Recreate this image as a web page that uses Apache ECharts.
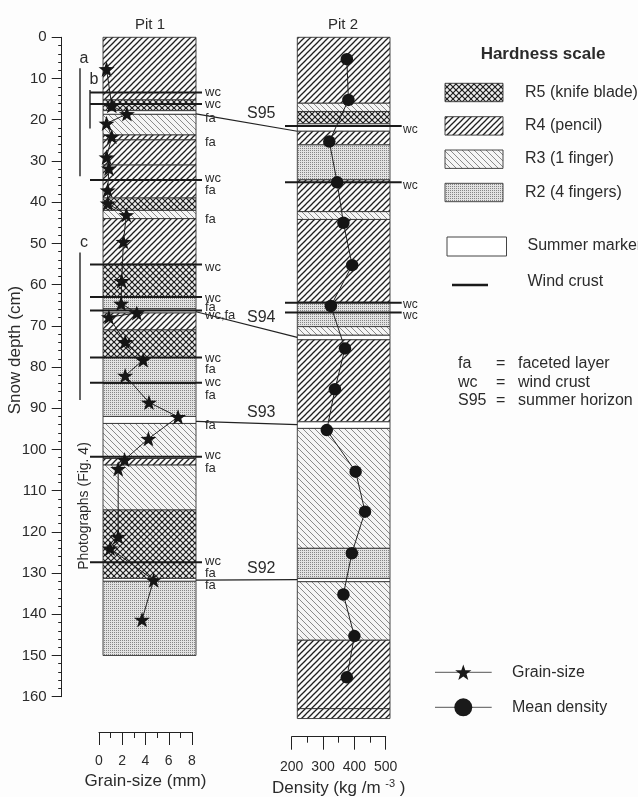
<!DOCTYPE html>
<html><head><meta charset="utf-8">
<script src="https://cdn.jsdelivr.net/npm/echarts@6/dist/echarts.min.js"></script>
<style>html,body{margin:0;padding:0;background:#fdfdfd}#c{width:638px;height:797px}</style>
</head><body><div id="c"></div>
<script>
// ---------------- data ----------------
const grainDepth = [7.7, 16.6, 18.6, 20.9, 24.1, 29.1, 31.8, 37.1, 40.3, 43.1, 49.6, 59.1, 64.6, 66.9, 67.9, 73.9, 78.3, 82.1, 88.6, 92.1, 97.4, 102.5, 104.7, 121.2, 124.0, 131.7, 141.3];
const grainSize  = [0.65, 1.1, 2.4, 0.65, 1.1, 0.65, 0.85, 0.75, 0.75, 2.35, 2.1, 1.95, 1.9, 3.25, 0.85, 2.25, 3.8, 2.25, 4.3, 6.8, 4.25, 2.2, 1.65, 1.65, 0.95, 4.7, 3.7];

const densityDepth = [5.3, 15.2, 25.3, 35.2, 45.0, 55.3, 65.2, 75.5, 85.4, 95.3, 105.4, 115.1, 125.2, 135.2, 145.3, 155.3];
const densityValue = [376, 381, 320, 345, 365, 393, 325, 370, 338, 312, 404, 434, 392, 365, 400, 376];

// layers: [top, bottom, hardness]
const pit1Layers = [
  [0, 15.2, 'R4'], [15.2, 17.8, 'R5'], [17.8, 18.7, 'S'], [18.7, 23.7, 'R3'], [23.7, 24.9, 'R4'],
  [24.9, 31.0, 'R4'], [31.0, 39.0, 'R4'], [39.0, 42.0, 'R5'], [42.0, 44.0, 'R3'], [44.0, 55.1, 'R4'],
  [55.1, 63.0, 'R5'], [63.0, 65.9, 'R2'], [65.9, 66.9, 'S'], [66.9, 71.0, 'R4'], [71.0, 77.7, 'R5'],
  [77.7, 84.0, 'R2'], [84.0, 92.0, 'R2'], [92.0, 93.7, 'S'], [93.7, 102.2, 'R3'], [102.2, 103.8, 'R4'],
  [103.8, 114.7, 'R3'], [114.7, 131.3, 'R5'], [131.3, 132.0, 'S'], [132.0, 150.0, 'R2']
];
const pit2Layers = [
  [0, 16.0, 'R4'], [16.0, 18.0, 'R3'], [18.0, 21.0, 'R5'], [21.0, 22.8, 'S'], [22.8, 26.1, 'R4'],
  [26.1, 34.6, 'R2'], [34.6, 42.3, 'R4'], [42.3, 44.2, 'R3'], [44.2, 64.3, 'R4'], [64.3, 70.2, 'R2'],
  [70.2, 72.3, 'R3'], [72.3, 73.4, 'S'], [73.4, 93.3, 'R4'], [93.3, 94.9, 'S'], [94.9, 124.0, 'R3'],
  [124.0, 131.3, 'R2'], [131.3, 132.1, 'S'], [132.1, 146.3, 'R3'], [146.3, 162.9, 'R4'], [162.9, 165.3, 'R4']
];

const pit1WindCrust = [13.4, 16.2, 34.6, 55.1, 63.0, 66.3, 77.7, 83.8, 101.8, 127.4];
const pit2WindCrust = [21.5, 35.2, 64.4, 66.8];

const pit1LabelDepth = [13.4, 16.2, 19.7, 25.5, 34.2, 37.1, 44.3, 55.9, 63.4, 65.6, 67.6, 77.9, 80.5, 83.8, 86.8, 94.1, 101.4, 104.6, 127.1, 130.1, 132.9];
const pit1LabelText  = ['wc', 'wc', 'fa', 'fa', 'wc', 'fa', 'fa', 'wc', 'wc', 'fa', 'wc,fa', 'wc', 'fa', 'wc', 'fa', 'fa', 'wc', 'fa', 'wc', 'fa', 'fa'];
const pit2LabelDepth = [22.3, 35.9, 64.9, 67.6];
const pit2LabelText  = ['wc', 'wc', 'wc', 'wc'];

const horizonNames = ['S95', 'S94', 'S93', 'S92'];
const horizonPit1  = [18.6, 66.6, 93.2, 131.7];
const horizonPit2  = [22.8, 72.8, 94.0, 131.6];

const bracketNames  = ['a', 'b', 'c'];
const bracketTop    = [7.5, 12.8, 52.2];
const bracketBottom = [33.7, 22.1, 88.0];

const grainTicks = [0, 2, 4, 6, 8];
const densityTicks = [200, 300, 400, 500];

// ---------------- layout / style ----------------
const L = {
  pit1: [103, 196], pit2: [297.3, 390],
  wc1: [90, 202], wc2: [285, 401.7],
  label1X: 205, label2X: 403, sLabelX: 247,
  bracketX: [80, 90, 80]
};
const FONT = '"Liberation Sans", Arial, sans-serif';
const INK = '#2b2b2b';

function tile(size, draw) {
  const c = document.createElement('canvas');
  c.width = size; c.height = size;
  const g = c.getContext('2d');
  draw(g, size);
  return { image: c, repeat: 'repeat' };
}
function slash(g, s, dir) {
  for (let k = -1; k <= 1; k++) {
    g.beginPath();
    if (dir > 0) { g.moveTo(k * s - 1, s + 1); g.lineTo(k * s + s + 1, -1); }
    else { g.moveTo(k * s - 1, -1); g.lineTo(k * s + s + 1, s + 1); }
    g.stroke();
  }
}
const PATTERNS = {
  R5: tile(6, (g, s) => { g.fillStyle = '#eeeeee'; g.fillRect(0, 0, s, s); g.strokeStyle = '#1e1e1e'; g.lineWidth = 1.2; slash(g, s, 1); slash(g, s, -1); }),
  R4: tile(6, (g, s) => { g.fillStyle = '#fafafa'; g.fillRect(0, 0, s, s); g.strokeStyle = '#1e1e1e'; g.lineWidth = 1.25; slash(g, s, 1); }),
  R3: tile(6, (g, s) => { g.fillStyle = '#f5f5f5'; g.fillRect(0, 0, s, s); g.strokeStyle = '#8a8a8a'; g.lineWidth = 1; slash(g, s, -1); }),
  R2: tile(2, (g, s) => { g.fillStyle = '#e2e2e2'; g.fillRect(0, 0, s, s); g.fillStyle = '#858585'; g.fillRect(0, 0, 1, 1); }),
  S: '#ffffff'
};

const STAR = 'path://M0,-10 L2.35,-3.24 L9.51,-3.09 L3.8,1.24 L5.88,8.09 L0,4 L-5.88,8.09 L-3.8,1.24 L-9.51,-3.09 L-2.35,-3.24 Z';
function starPoints(cx, cy, R) {
  const pts = [];
  for (let i = 0; i < 10; i++) {
    const a = -Math.PI / 2 + i * Math.PI / 5;
    const r = i % 2 === 0 ? R : R * 0.4;
    pts.push([cx + r * Math.cos(a), cy + r * Math.sin(a)]);
  }
  return pts;
}

function layerSeries(layers, idx, xv, xr) {
  return {
    type: 'custom', xAxisIndex: idx, yAxisIndex: idx, z: 1, silent: true, clip: false,
    data: layers.map(l => [xv, l[0], l[1]]),
    encode: { x: 0, y: [1, 2] },
    renderItem: (p, api) => {
      const y0 = api.coord([xv, api.value(1)])[1];
      const y1 = api.coord([xv, api.value(2)])[1];
      return { type: 'rect', shape: { x: xr[0], y: y0, width: xr[1] - xr[0], height: y1 - y0 },
        style: { fill: PATTERNS[layers[p.dataIndex][2]], stroke: '#333', lineWidth: 0.9 } };
    }
  };
}
function crustSeries(depths, idx, xv, xr) {
  return {
    type: 'custom', xAxisIndex: idx, yAxisIndex: idx, z: 3, silent: true, clip: false,
    data: depths.map(d => [xv, d]),
    encode: { x: 0, y: 1 },
    renderItem: (p, api) => {
      const y = api.coord([xv, api.value(1)])[1];
      return { type: 'line', shape: { x1: xr[0], y1: y, x2: xr[1], y2: y }, style: { stroke: '#1a1a1a', lineWidth: 2 } };
    }
  };
}
function labelSeries(depths, texts, idx, xv, x, size) {
  return {
    type: 'custom', xAxisIndex: idx, yAxisIndex: idx, z: 4, silent: true, clip: false,
    data: depths.map(d => [xv, d]),
    encode: { x: 0, y: 1 },
    renderItem: (p, api) => {
      const y = api.coord([xv, api.value(1)])[1];
      return { type: 'text', x: x, y: y, style: { text: texts[p.dataIndex], fill: INK, font: size + 'px ' + FONT, align: 'left', verticalAlign: 'middle' } };
    }
  };
}

const axisCommon = {
  type: 'value',
  axisLine: { show: true, onZero: false, lineStyle: { color: '#222', width: 1 } },
  splitLine: { show: false }, minorSplitLine: { show: false }
};

const option = {
  backgroundColor: '#fdfdfd',
  animation: false,
  textStyle: { fontFamily: FONT },
  grid: [
    { left: 99, top: 37.3, width: 93, height: 659.4, containLabel: false, outerBoundsMode: 'none' },
    { left: 291.7, top: 37.3, width: 94, height: 659.4, containLabel: false, outerBoundsMode: 'none' }
  ],
  xAxis: [
    Object.assign({}, axisCommon, {
      gridIndex: 0, min: grainTicks[0], max: grainTicks[grainTicks.length - 1], interval: 2,
      position: 'bottom', offset: 35.3,
      axisTick: { show: true, length: 13, lineStyle: { color: '#222' } },
      minorTick: { show: true, splitNumber: 2, length: 6, lineStyle: { color: '#222' } },
      axisLabel: { margin: 22, fontSize: 14, color: INK },
      name: 'Grain-size (mm)', nameLocation: 'middle', nameGap: 40,
      nameTextStyle: { fontSize: 17, color: INK }
    }),
    Object.assign({}, axisCommon, {
      gridIndex: 1, min: densityTicks[0], max: densityTicks[densityTicks.length - 1], interval: 100,
      position: 'bottom', offset: 40,
      axisTick: { show: true, length: 13, lineStyle: { color: '#222' } },
      minorTick: { show: true, splitNumber: 2, length: 6, lineStyle: { color: '#222' } },
      axisLabel: { margin: 23, fontSize: 14, color: INK },
      name: '{a|Density (kg /m }{s|-3}{a| )}', nameLocation: 'middle', nameGap: 41,
      nameTextStyle: { rich: { a: { fontSize: 17, color: INK, fontFamily: FONT }, s: { fontSize: 11, color: INK, fontFamily: FONT, verticalAlign: 'top', padding: [0, 0, 8, 0] } } }
    })
  ],
  yAxis: [
    Object.assign({}, axisCommon, {
      gridIndex: 0, inverse: true, min: 0, max: 160, interval: 10, position: 'left', offset: 37.3,
      axisTick: { show: true, length: 10, lineStyle: { color: '#222' } },
      minorTick: { show: true, splitNumber: 5, length: 3.5, lineStyle: { color: '#222' } },
      axisLabel: { margin: 15, fontSize: 15, color: INK }
    }),
    { gridIndex: 1, type: 'value', inverse: true, min: 0, max: 160, show: false, splitLine: { show: false } }
  ],
  graphic: [
    { type: 'text', x: 150, y: 25, style: { text: 'Pit 1', font: '15px ' + FONT, fill: INK, align: 'center', verticalAlign: 'middle' } },
    { type: 'text', x: 343, y: 25, style: { text: 'Pit 2', font: '15px ' + FONT, fill: INK, align: 'center', verticalAlign: 'middle' } },
    { type: 'text', x: 15, y: 350, rotation: Math.PI / 2, style: { text: 'Snow depth (cm)', font: '17px ' + FONT, fill: INK, align: 'center', verticalAlign: 'middle' } },
    { type: 'text', x: 84, y: 506, rotation: Math.PI / 2, style: { text: 'Photographs (Fig. 4)', font: '14px ' + FONT, fill: INK, align: 'center', verticalAlign: 'middle' } },
    // hardness legend
    { type: 'text', x: 543, y: 54, style: { text: 'Hardness scale', font: 'bold 17px ' + FONT, fill: INK, align: 'center', verticalAlign: 'middle' } },
    { type: 'rect', shape: { x: 445, y: 83.3, width: 58, height: 18.4 }, style: { fill: PATTERNS.R5, stroke: '#333', lineWidth: 0.9 } },
    { type: 'rect', shape: { x: 445, y: 116.7, width: 58, height: 18.4 }, style: { fill: PATTERNS.R4, stroke: '#333', lineWidth: 0.9 } },
    { type: 'rect', shape: { x: 445, y: 150, width: 58, height: 18.4 }, style: { fill: PATTERNS.R3, stroke: '#333', lineWidth: 0.9 } },
    { type: 'rect', shape: { x: 445, y: 183.3, width: 58, height: 18.4 }, style: { fill: PATTERNS.R2, stroke: '#333', lineWidth: 0.9 } },
    { type: 'rect', shape: { x: 447, y: 237, width: 59.5, height: 19 }, style: { fill: '#fff', stroke: '#444', lineWidth: 1 } },
    { type: 'line', shape: { x1: 452, y1: 285, x2: 488, y2: 285 }, style: { stroke: '#1a1a1a', lineWidth: 2.5 } },
    { type: 'text', x: 525, y: 92.5, style: { text: 'R5 (knife blade)', font: '16px ' + FONT, fill: INK, align: 'left', verticalAlign: 'middle' } },
    { type: 'text', x: 525, y: 126, style: { text: 'R4 (pencil)', font: '16px ' + FONT, fill: INK, align: 'left', verticalAlign: 'middle' } },
    { type: 'text', x: 525, y: 159, style: { text: 'R3 (1 finger)', font: '16px ' + FONT, fill: INK, align: 'left', verticalAlign: 'middle' } },
    { type: 'text', x: 525, y: 192.5, style: { text: 'R2 (4 fingers)', font: '16px ' + FONT, fill: INK, align: 'left', verticalAlign: 'middle' } },
    { type: 'text', x: 527.5, y: 246, style: { text: 'Summer marker', font: '16px ' + FONT, fill: INK, align: 'left', verticalAlign: 'middle' } },
    { type: 'text', x: 527.5, y: 282, style: { text: 'Wind crust', font: '16px ' + FONT, fill: INK, align: 'left', verticalAlign: 'middle' } },
    // abbreviations
    { type: 'text', x: 458, y: 363.3, style: { text: 'fa', font: '16px ' + FONT, fill: INK, align: 'left', verticalAlign: 'middle' } },
    { type: 'text', x: 458, y: 382.3, style: { text: 'wc', font: '16px ' + FONT, fill: INK, align: 'left', verticalAlign: 'middle' } },
    { type: 'text', x: 458, y: 401, style: { text: 'S95', font: '16px ' + FONT, fill: INK, align: 'left', verticalAlign: 'middle' } },
    { type: 'text', x: 496, y: 363.3, style: { text: '=', font: '16px ' + FONT, fill: INK, align: 'left', verticalAlign: 'middle' } },
    { type: 'text', x: 496, y: 382.3, style: { text: '=', font: '16px ' + FONT, fill: INK, align: 'left', verticalAlign: 'middle' } },
    { type: 'text', x: 496, y: 401, style: { text: '=', font: '16px ' + FONT, fill: INK, align: 'left', verticalAlign: 'middle' } },
    { type: 'text', x: 518, y: 363.3, style: { text: 'faceted layer', font: '16px ' + FONT, fill: INK, align: 'left', verticalAlign: 'middle' } },
    { type: 'text', x: 518, y: 382.3, style: { text: 'wind crust', font: '16px ' + FONT, fill: INK, align: 'left', verticalAlign: 'middle' } },
    { type: 'text', x: 518, y: 401, style: { text: 'summer horizon', font: '16px ' + FONT, fill: INK, align: 'left', verticalAlign: 'middle' } },
    // series legend
    { type: 'line', shape: { x1: 435, y1: 672.3, x2: 491.7, y2: 672.3 }, style: { stroke: '#555', lineWidth: 1 } },
    { type: 'polygon', shape: { points: starPoints(463.3, 673, 8.5) }, style: { fill: '#1a1a1a' } },
    { type: 'text', x: 512, y: 672.3, style: { text: 'Grain-size', font: '16px ' + FONT, fill: INK, align: 'left', verticalAlign: 'middle' } },
    { type: 'line', shape: { x1: 435, y1: 707.3, x2: 491.7, y2: 707.3 }, style: { stroke: '#555', lineWidth: 1 } },
    { type: 'circle', shape: { cx: 463.3, cy: 707.3, r: 9 }, style: { fill: '#1a1a1a' } },
    { type: 'text', x: 512, y: 707.3, style: { text: 'Mean density', font: '16px ' + FONT, fill: INK, align: 'left', verticalAlign: 'middle' } }
  ],
  series: [
    layerSeries(pit1Layers, 0, 0, L.pit1),
    layerSeries(pit2Layers, 1, 200, L.pit2),
    crustSeries(pit1WindCrust, 0, 0, L.wc1),
    crustSeries(pit2WindCrust, 1, 200, L.wc2),
    labelSeries(pit1LabelDepth, pit1LabelText, 0, 0, L.label1X, 13),
    labelSeries(pit2LabelDepth, pit2LabelText, 1, 200, L.label2X, 12),
    {
      type: 'custom', xAxisIndex: 0, yAxisIndex: 0, z: 3, silent: true, clip: false,
      data: horizonPit1.map((d, i) => [0, d, horizonPit2[i]]),
      encode: { x: 0, y: [1, 2] },
      renderItem: (p, api) => {
        const ya = api.coord([0, api.value(1)])[1];
        const yb = api.coord([0, api.value(2)])[1];
        const xa = L.pit1[1], xb = L.pit2[0];
        const t = (L.sLabelX + 14 - xa) / (xb - xa);
        const ym = ya + t * (yb - ya);
        return { type: 'group', children: [
          { type: 'line', shape: { x1: xa, y1: ya, x2: xb, y2: yb }, style: { stroke: '#222', lineWidth: 1.2 } },
          { type: 'text', x: L.sLabelX, y: ym - 3, style: { text: horizonNames[p.dataIndex], font: '16px ' + FONT, fill: INK, align: 'left', verticalAlign: 'bottom' } }
        ] };
      }
    },
    {
      type: 'custom', xAxisIndex: 0, yAxisIndex: 0, z: 3, silent: true, clip: false,
      data: bracketTop.map((d, i) => [0, d, bracketBottom[i]]),
      encode: { x: 0, y: [1, 2] },
      renderItem: (p, api) => {
        const ya = api.coord([0, api.value(1)])[1];
        const yb = api.coord([0, api.value(2)])[1];
        const x = L.bracketX[p.dataIndex];
        return { type: 'group', children: [
          { type: 'line', shape: { x1: x, y1: ya, x2: x, y2: yb }, style: { stroke: '#222', lineWidth: 1.4 } },
          { type: 'text', x: x + 4, y: ya - 2, style: { text: bracketNames[p.dataIndex], font: '16px ' + FONT, fill: INK, align: 'center', verticalAlign: 'bottom' } }
        ] };
      }
    },
    {
      type: 'line', name: 'Grain-size', xAxisIndex: 0, yAxisIndex: 0, z: 6,
      data: grainSize.map((g, i) => [g, grainDepth[i]]),
      symbol: STAR, symbolSize: 16, symbolKeepAspect: true, showAllSymbol: true,
      lineStyle: { color: '#222', width: 1 }, itemStyle: { color: '#151515' }
    },
    {
      type: 'line', name: 'Mean density', xAxisIndex: 1, yAxisIndex: 1, z: 6,
      data: densityValue.map((v, i) => [v, densityDepth[i]]),
      symbol: 'circle', symbolSize: 12.5, showAllSymbol: true,
      lineStyle: { color: '#222', width: 1 }, itemStyle: { color: '#151515' }
    }
  ]
};

const chart = echarts.init(document.getElementById('c'), null, { renderer: 'canvas' });
chart.setOption(option);
</script>
</body></html>
